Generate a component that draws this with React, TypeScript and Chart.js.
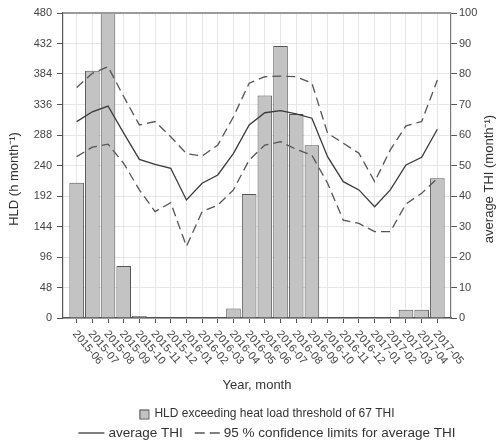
import React, { useEffect, useRef } from 'react';
import { Chart, registerables } from 'chart.js';

Chart.register(...registerables);

const months = [
  '2015-06', '2015-07', '2015-08', '2015-09', '2015-10', '2015-11', '2015-12',
  '2016-01', '2016-02', '2016-03', '2016-04', '2016-05', '2016-06', '2016-07',
  '2016-08', '2016-09', '2016-10', '2016-11', '2016-12', '2017-01', '2017-02',
  '2017-03', '2017-04', '2017-05',
];

const hld = [213, 389, 480, 82, 3, 0, 0, 0, 0, 0, 15, 195, 350, 428, 321, 272, 0, 0, 0, 0, 0, 13, 13, 220];

const thiAvg = [64.4, 67.6, 69.5, 60.6, 52, 50.4, 49.1, 38.7, 44.2, 46.9, 54, 63.3, 67.3, 68, 66.9, 65.5, 52.9, 44.7, 42, 36.5, 42, 50.2, 52.7, 61.9];
const thiUpper = [75.6, 80.2, 82.4, 72.6, 63.3, 64.4, 59.4, 53.9, 53.1, 56.7, 66, 77, 79.1, 79.3, 79.1, 77, 60.6, 57.3, 54, 44.7, 55.1, 63, 64.4, 78];
const thiLower = [52.9, 56, 57, 50.7, 42, 34.9, 37.8, 23.5, 34.9, 37, 42, 51.8, 56.7, 57.8, 55.3, 53.4, 44.2, 32.1, 31, 28.3, 28.3, 37.4, 40.9, 45.8];

const yLeftTitle = 'HLD (h month\u207B\u00B9)';
const yRightTitle = 'average THI (month\u207B\u00B9)';
const xTitle = 'Year, month';
const legendBar = 'HLD exceeding heat load threshold of 67 THI';
const legendAvg = 'average THI';
const legendCI = '95 % confidence limits for average THI';

const FONT = '"Liberation Sans", Arial, Helvetica, sans-serif';

const decor = {
  id: 'decor',
  afterDraw(chart: any) {
    const { ctx, chartArea, scales } = chart;
    const xs = scales.x;
    ctx.save();
    // top frame line
    ctx.strokeStyle = '#9a9a9a';
    ctx.lineWidth = 2;
    ctx.beginPath();
    ctx.moveTo(chartArea.left, chartArea.top);
    ctx.lineTo(chartArea.right, chartArea.top);
    ctx.stroke();

    // rotated x tick labels
    ctx.fillStyle = '#444';
    ctx.font = `11px ${FONT}`;
    ctx.textAlign = 'left';
    ctx.textBaseline = 'middle';
    months.forEach((m, i) => {
      const px = xs.getPixelForValue(i);
      ctx.save();
      ctx.translate(px - 2, chartArea.bottom + 14);
      ctx.rotate((50 * Math.PI) / 180);
      ctx.fillText(m, 0, 0);
      ctx.restore();
    });

    // axis titles
    ctx.fillStyle = '#333';
    ctx.font = `13px ${FONT}`;
    ctx.textAlign = 'center';
    ctx.textBaseline = 'middle';
    ctx.fillText(xTitle, (chartArea.left + chartArea.right) / 2, 385);
    const midY = 179;
    ctx.save();
    ctx.translate(14, midY);
    ctx.rotate(-Math.PI / 2);
    ctx.fillText(yLeftTitle, 0, 0);
    ctx.restore();
    ctx.save();
    ctx.translate(489, midY);
    ctx.rotate(-Math.PI / 2);
    ctx.fillText(yRightTitle, 0, 0);
    ctx.restore();

    // legend
    const cx = 267;
    ctx.textAlign = 'left';
    ctx.textBaseline = 'middle';
    ctx.font = `12px ${FONT}`;
    const w1 = ctx.measureText(legendBar).width;
    const r1 = 10 + 5 + w1;
    let sx = cx - r1 / 2;
    const y1 = 414;
    ctx.fillStyle = '#c3c3c3';
    ctx.fillRect(sx, y1 - 4.5, 9, 9);
    ctx.strokeStyle = '#555';
    ctx.lineWidth = 1;
    ctx.strokeRect(sx + 0.5, y1 - 4, 9, 9);
    ctx.fillStyle = '#333';
    ctx.fillText(legendBar, sx + 15, y1);

    ctx.font = `13.5px ${FONT}`;
    const wa = ctx.measureText(legendAvg).width;
    const wc = ctx.measureText(legendCI).width;
    const r2 = 26 + 4 + wa + 12 + 25 + 4 + wc;
    sx = cx - r2 / 2;
    const y2 = 433;
    ctx.strokeStyle = '#3a3a3a';
    ctx.lineWidth = 1.3;
    ctx.beginPath();
    ctx.moveTo(sx, y2);
    ctx.lineTo(sx + 26, y2);
    ctx.stroke();
    ctx.fillText(legendAvg, sx + 30, y2);
    let dx = sx + 30 + wa + 12;
    ctx.strokeStyle = '#555';
    ctx.setLineDash([10, 5]);
    ctx.beginPath();
    ctx.moveTo(dx, y2);
    ctx.lineTo(dx + 25, y2);
    ctx.stroke();
    ctx.setLineDash([]);
    ctx.fillText(legendCI, dx + 29, y2);
    ctx.restore();
  },
};

export default function App() {
  const ref = useRef<HTMLCanvasElement | null>(null);
  useEffect(() => {
    document.body.style.margin = '0';
    const canvas = ref.current;
    if (!canvas) return;
    const tickFont = { family: FONT, size: 11 };
    const chart = new Chart(canvas, {
      type: 'bar',
      data: {
        datasets: [
          {
            type: 'line',
            label: 'average THI',
            data: thiAvg.map((v, i) => ({ x: i, y: v })),
            yAxisID: 'y1',
            borderColor: '#3a3a3a',
            borderWidth: 1.3,
            pointRadius: 0,
            tension: 0,
            fill: false,
            order: 1,
          },
          {
            type: 'line',
            label: 'upper',
            data: thiUpper.map((v, i) => ({ x: i, y: v })),
            yAxisID: 'y1',
            borderColor: '#555',
            borderWidth: 1.3,
            borderDash: [9, 5],
            pointRadius: 0,
            tension: 0,
            fill: false,
            order: 1,
          },
          {
            type: 'line',
            label: 'lower',
            data: thiLower.map((v, i) => ({ x: i, y: v })),
            yAxisID: 'y1',
            borderColor: '#555',
            borderWidth: 1.3,
            borderDash: [9, 5],
            pointRadius: 0,
            tension: 0,
            fill: false,
            order: 1,
          },
          {
            type: 'bar',
            label: 'HLD',
            data: hld.map((v, i) => ({ x: i, y: v })),
            yAxisID: 'y',
            backgroundColor: '#c3c3c3',
            borderColor: '#555',
            borderWidth: 1,
            barPercentage: 0.93,
            categoryPercentage: 1,
            order: 2,
          },
        ] as any,
      },
      options: {
        responsive: false,
        animation: false,
        layout: { padding: { left: 23, right: 5, top: 13, bottom: 120 } },
        plugins: { legend: { display: false }, tooltip: { enabled: false } },
        scales: {
          x: {
            type: 'linear',
            min: -0.87,
            max: 23.87,
            offset: false,
            afterBuildTicks: (s: any) => {
              s.ticks = months.map((_, i) => ({ value: i }));
            },
            afterFit: (s: any) => {
              s.height = 6;
            },
            ticks: { display: false },
            grid: { color: '#e6e6e6', tickColor: '#555', tickLength: 5, offset: false },
            border: { color: '#555', width: 1.5 },
          },
          y: {
            position: 'left',
            min: 0,
            max: 480,
            afterFit: (s: any) => {
              s.width = 40;
            },
            ticks: { stepSize: 48, color: '#444', font: tickFont, padding: 5 },
            grid: { color: '#e6e6e6', tickColor: '#555', tickLength: 6 },
            border: { color: '#555', width: 1.2 },
          },
          y1: {
            position: 'right',
            min: 0,
            max: 100,
            afterFit: (s: any) => {
              s.width = 40;
            },
            ticks: { stepSize: 10, color: '#444', font: tickFont, padding: 2 },
            grid: { drawOnChartArea: false, tickColor: '#555', tickLength: 6 },
            border: { color: '#777', width: 1.2 },
          },
        },
      } as any,
      plugins: [decor],
    });
    return () => chart.destroy();
  }, []);
  return <canvas ref={ref} width={496} height={444} style={{ display: 'block' }} />;
}
